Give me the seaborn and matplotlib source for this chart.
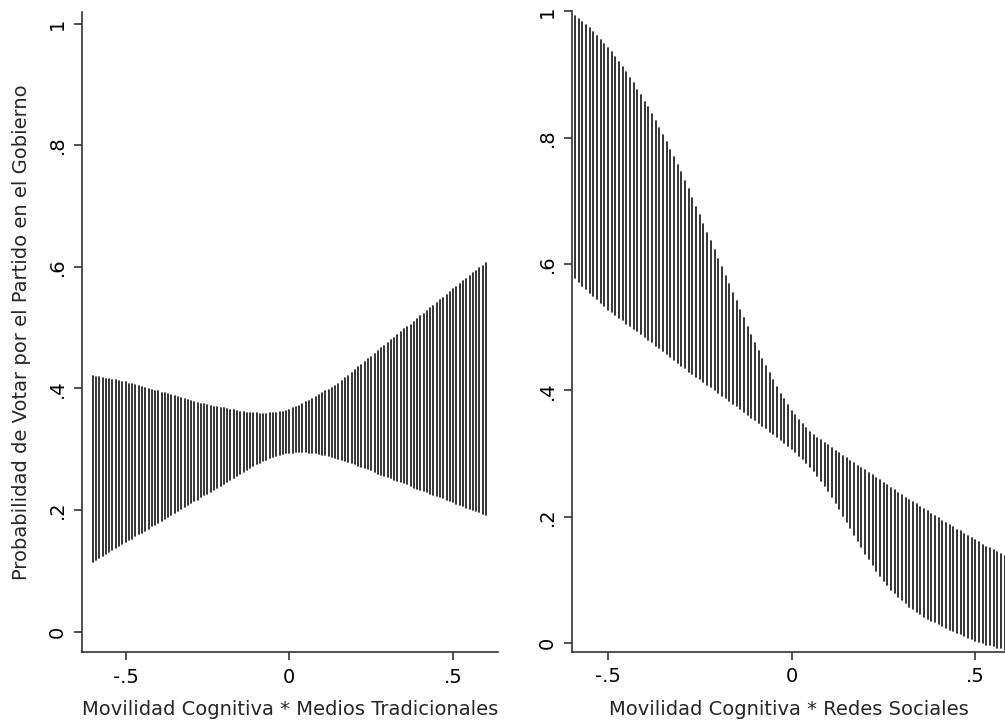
import numpy as np
import pandas as pd
import matplotlib
matplotlib.use("Agg")
import matplotlib.pyplot as plt
import seaborn as sns

# ---------------- data ----------------
x_left = np.round(np.linspace(-0.60, 0.60, 121), 2)
left_upper = [
    0.420, 0.419, 0.418, 0.417, 0.416, 0.415, 0.414, 0.413, 0.412, 0.411,
    0.410, 0.408, 0.407, 0.405, 0.404, 0.402, 0.401, 0.399, 0.398, 0.396,
    0.395, 0.393, 0.392, 0.390, 0.389, 0.387, 0.386, 0.384, 0.382, 0.381,
    0.379, 0.378, 0.376, 0.375, 0.374, 0.373, 0.371, 0.370, 0.369, 0.368,
    0.367, 0.366, 0.365, 0.364, 0.363, 0.362, 0.361, 0.360, 0.360, 0.359,
    0.359, 0.358, 0.358, 0.358, 0.359, 0.359, 0.360, 0.361, 0.362, 0.363,
    0.365, 0.367, 0.369, 0.371, 0.374, 0.377, 0.380, 0.383, 0.386, 0.389,
    0.392, 0.395, 0.398, 0.401, 0.404, 0.408, 0.412, 0.417, 0.421, 0.426,
    0.430, 0.435, 0.439, 0.444, 0.448, 0.452, 0.457, 0.461, 0.466, 0.470,
    0.474, 0.479, 0.483, 0.488, 0.492, 0.497, 0.501, 0.505, 0.510, 0.514,
    0.519, 0.523, 0.527, 0.532, 0.536, 0.541, 0.545, 0.549, 0.554, 0.558,
    0.563, 0.567, 0.571, 0.576, 0.580, 0.585, 0.589, 0.593, 0.598, 0.602,
    0.607,
]
left_lower = [
    0.115, 0.118, 0.121, 0.125, 0.128, 0.131, 0.134, 0.137, 0.141, 0.144,
    0.147, 0.150, 0.153, 0.157, 0.160, 0.163, 0.166, 0.169, 0.173, 0.176,
    0.179, 0.182, 0.185, 0.189, 0.192, 0.195, 0.198, 0.201, 0.205, 0.208,
    0.211, 0.214, 0.217, 0.221, 0.224, 0.227, 0.230, 0.233, 0.237, 0.240,
    0.243, 0.246, 0.249, 0.253, 0.256, 0.259, 0.262, 0.265, 0.269, 0.272,
    0.275, 0.278, 0.280, 0.283, 0.285, 0.287, 0.289, 0.291, 0.292, 0.293,
    0.294, 0.294, 0.295, 0.295, 0.295, 0.295, 0.294, 0.294, 0.293, 0.292,
    0.291, 0.290, 0.289, 0.287, 0.286, 0.284, 0.282, 0.280, 0.279, 0.277,
    0.275, 0.273, 0.271, 0.269, 0.267, 0.265, 0.263, 0.260, 0.258, 0.256,
    0.254, 0.252, 0.250, 0.248, 0.246, 0.244, 0.242, 0.239, 0.237, 0.235,
    0.233, 0.231, 0.229, 0.227, 0.225, 0.223, 0.221, 0.219, 0.217, 0.215,
    0.213, 0.210, 0.208, 0.206, 0.204, 0.202, 0.200, 0.198, 0.196, 0.194,
    0.192,
]

x_right = np.round(np.linspace(-0.59, 0.58, 118), 2)
right_upper = [
    0.992, 0.988, 0.983, 0.978, 0.973, 0.967, 0.961, 0.955, 0.949, 0.942,
    0.935, 0.928, 0.920, 0.912, 0.904, 0.895, 0.886, 0.876, 0.867, 0.857,
    0.848, 0.838, 0.827, 0.816, 0.805, 0.793, 0.781, 0.769, 0.757, 0.745,
    0.732, 0.719, 0.705, 0.691, 0.677, 0.663, 0.649, 0.636, 0.622, 0.608,
    0.595, 0.581, 0.568, 0.554, 0.541, 0.528, 0.514, 0.501, 0.488, 0.475,
    0.462, 0.450, 0.438, 0.427, 0.416, 0.405, 0.395, 0.386, 0.377, 0.368,
    0.361, 0.354, 0.347, 0.341, 0.335, 0.330, 0.325, 0.321, 0.317, 0.313,
    0.309, 0.305, 0.301, 0.297, 0.293, 0.289, 0.285, 0.281, 0.278, 0.274,
    0.270, 0.266, 0.262, 0.258, 0.254, 0.250, 0.246, 0.242, 0.238, 0.234,
    0.230, 0.227, 0.223, 0.220, 0.216, 0.212, 0.209, 0.205, 0.202, 0.198,
    0.194, 0.191, 0.187, 0.184, 0.180, 0.177, 0.173, 0.170, 0.166, 0.163,
    0.160, 0.156, 0.153, 0.150, 0.147, 0.144, 0.141, 0.138,
]
right_lower = [
    0.578, 0.572, 0.566, 0.561, 0.555, 0.550, 0.544, 0.539, 0.533, 0.528,
    0.524, 0.519, 0.515, 0.511, 0.506, 0.502, 0.498, 0.494, 0.489, 0.485,
    0.480, 0.476, 0.471, 0.467, 0.462, 0.457, 0.453, 0.448, 0.444, 0.439,
    0.435, 0.430, 0.426, 0.422, 0.418, 0.413, 0.409, 0.405, 0.400, 0.396,
    0.392, 0.388, 0.383, 0.379, 0.375, 0.370, 0.366, 0.362, 0.357, 0.353,
    0.349, 0.344, 0.340, 0.335, 0.331, 0.326, 0.321, 0.317, 0.312, 0.307,
    0.302, 0.297, 0.291, 0.285, 0.279, 0.272, 0.265, 0.257, 0.249, 0.241,
    0.232, 0.222, 0.212, 0.202, 0.192, 0.182, 0.172, 0.162, 0.152, 0.142,
    0.133, 0.124, 0.115, 0.107, 0.099, 0.092, 0.085, 0.079, 0.073, 0.068,
    0.063, 0.058, 0.054, 0.050, 0.046, 0.042, 0.039, 0.036, 0.033, 0.030,
    0.027, 0.024, 0.021, 0.019, 0.016, 0.014, 0.011, 0.009, 0.006, 0.004,
    0.002, 0.000, -0.002, -0.003, -0.005, -0.007, -0.008, -0.010,
]

x_ticks = [-0.5, 0.0, 0.5]
x_ticklabels = ["-.5", "0", ".5"]
y_ticks = [0, 0.2, 0.4, 0.6, 0.8, 1.0]
y_ticklabels = ["0", ".2", ".4", ".6", ".8", "1"]

xlabel_left = "Movilidad Cognitiva * Medios Tradicionales"
xlabel_right = "Movilidad Cognitiva * Redes Sociales"
ylabel = "Probabilidad de Votar por el Partido en el Gobierno"

# ---------------- style ----------------
sns.set_theme(style="white")
plt.rcParams["font.family"] = ["DejaVu Sans"]
FS = 14
SPINE = "#333333"
LINE = "#1c1c1c"


def long_df(x, lo, hi):
    return pd.DataFrame({
        "x": np.concatenate([x, x]),
        "y": np.concatenate([lo, hi]),
        "unit": np.concatenate([np.arange(len(x)), np.arange(len(x))]),
    })


fig = plt.figure(figsize=(10.05, 7.24), dpi=100)
ax1 = fig.add_axes([81.7 / 1005, 1 - 652.3 / 724, (498 - 81.7) / 1005, (652.3 - 12) / 724])
ax2 = fig.add_axes([572.3 / 1005, 1 - 652 / 724, (1005 - 572.3) / 1005, (652 - 11) / 724])

panels = [
    (ax1, long_df(x_left, left_lower, left_upper), (-0.634, 0.637), (-0.034, 1.019), xlabel_left),
    (ax2, long_df(x_right, right_lower, right_upper), (-0.597, 0.5806), (-0.0138, 1.0005), xlabel_right),
]

for ax, df, xl, yl, xlab in panels:
    sns.lineplot(data=df, x="x", y="y", units="unit", estimator=None,
                 color=LINE, linewidth=1.25, ax=ax, legend=False)
    ax.set_xlim(*xl)
    ax.set_ylim(*yl)
    ax.set_xticks(x_ticks)
    ax.set_xticklabels(x_ticklabels, fontsize=FS)
    ax.set_yticks(y_ticks)
    ax.set_yticklabels(y_ticklabels, fontsize=FS, rotation=90, va="center")
    ax.set_xlabel(xlab, fontsize=FS, labelpad=10)
    ax.set_ylabel("")
    for s in ["top", "right"]:
        ax.spines[s].set_visible(False)
    for s in ["left", "bottom"]:
        ax.spines[s].set_color(SPINE)
        ax.spines[s].set_linewidth(1.2)
    ax.tick_params(axis="both", which="major", direction="out", length=6,
                   width=1.2, color=SPINE, labelcolor="black", pad=5,
                   bottom=True, left=True)
    ax.set_facecolor("white")
    ax.grid(False)

ax1.set_ylabel(ylabel, fontsize=FS, labelpad=12)

fig.savefig("out.png", dpi=100, facecolor="white")
